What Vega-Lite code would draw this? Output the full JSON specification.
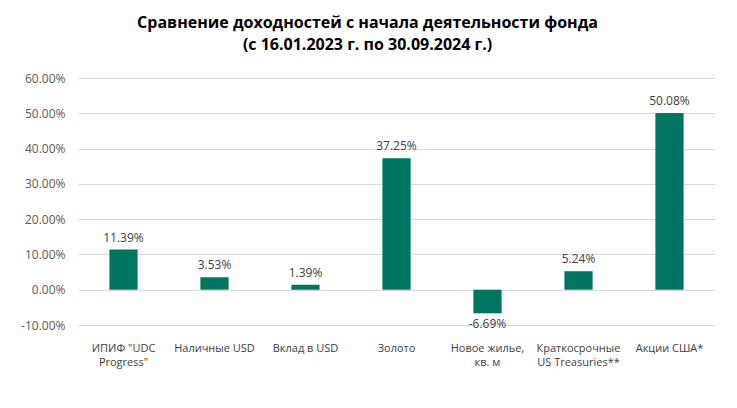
{
  "$schema": "https://vega.github.io/schema/vega-lite/v6.json",
  "autosize": {"type": "none"},
  "width": 637,
  "height": 247,
  "padding": {"left": 78, "top": 78, "right": 22, "bottom": 83},
  "background": "white",
  "title": {
    "text": ["Сравнение доходностей с начала деятельности фонда", "(с 16.01.2023 г. по 30.09.2024 г.)"],
    "font": "Open Sans",
    "fontSize": 16,
    "fontWeight": "bold",
    "color": "#000000",
    "anchor": "middle",
    "dx": -29,
    "offset": 19,
    "lineHeight": 22
  },
  "data": {
    "values": [
      {"cat": "ИПИФ \"UDC|Progress\"", "v": 0.1139},
      {"cat": "Наличные USD", "v": 0.0353},
      {"cat": "Вклад в USD", "v": 0.0139},
      {"cat": "Золото", "v": 0.3725},
      {"cat": "Новое жилье,|кв. м", "v": -0.0669},
      {"cat": "Краткосрочные|US Treasuries**", "v": 0.0524},
      {"cat": "Акции США*", "v": 0.5008}
    ]
  },
  "encoding": {
    "x": {
      "field": "cat",
      "type": "nominal",
      "sort": null,
      "scale": {"paddingInner": 0.69, "paddingOuter": 0.345},
      "axis": {
        "title": null,
        "labelAngle": 0,
        "domain": false,
        "ticks": false,
        "tickSize": 0,
        "labelPadding": 17,
        "labelFont": "Open Sans",
        "labelFontSize": 11,
        "labelColor": "#404040",
        "labelLineHeight": 14,
        "labelExpr": "split(datum.label, '|')"
      }
    },
    "y": {
      "field": "v",
      "type": "quantitative",
      "scale": {"domain": [-0.1, 0.6], "nice": false, "zero": false},
      "axis": {
        "title": null,
        "format": ".2%",
        "values": [-0.1, 0, 0.1, 0.2, 0.3, 0.4, 0.5, 0.6],
        "domain": false,
        "ticks": false,
        "labelPadding": 13,
        "labelFont": "Open Sans",
        "labelFontSize": 12,
        "labelColor": "#595959",
        "gridColor": "#d9d9d9",
        "gridWidth": 1
      }
    }
  },
  "layer": [
    {"mark": {"type": "bar", "color": "#007561"}},
    {
      "transform": [{"filter": "datum.v >= 0"}],
      "mark": {"type": "text", "baseline": "bottom", "dy": -5, "font": "Open Sans", "fontSize": 12, "color": "#404040"},
      "encoding": {"text": {"field": "v", "type": "quantitative", "format": ".2%"}}
    },
    {
      "transform": [{"filter": "datum.v < 0"}],
      "mark": {"type": "text", "baseline": "top", "dy": 6, "font": "Open Sans", "fontSize": 12, "color": "#404040"},
      "encoding": {"text": {"field": "v", "type": "quantitative", "format": ".2%"}}
    }
  ],
  "config": {
    "view": {"stroke": null},
    "locale": {"number": {"decimal": ".", "thousands": ",", "grouping": [3], "currency": ["$", ""], "minus": "-"}}
  }
}
